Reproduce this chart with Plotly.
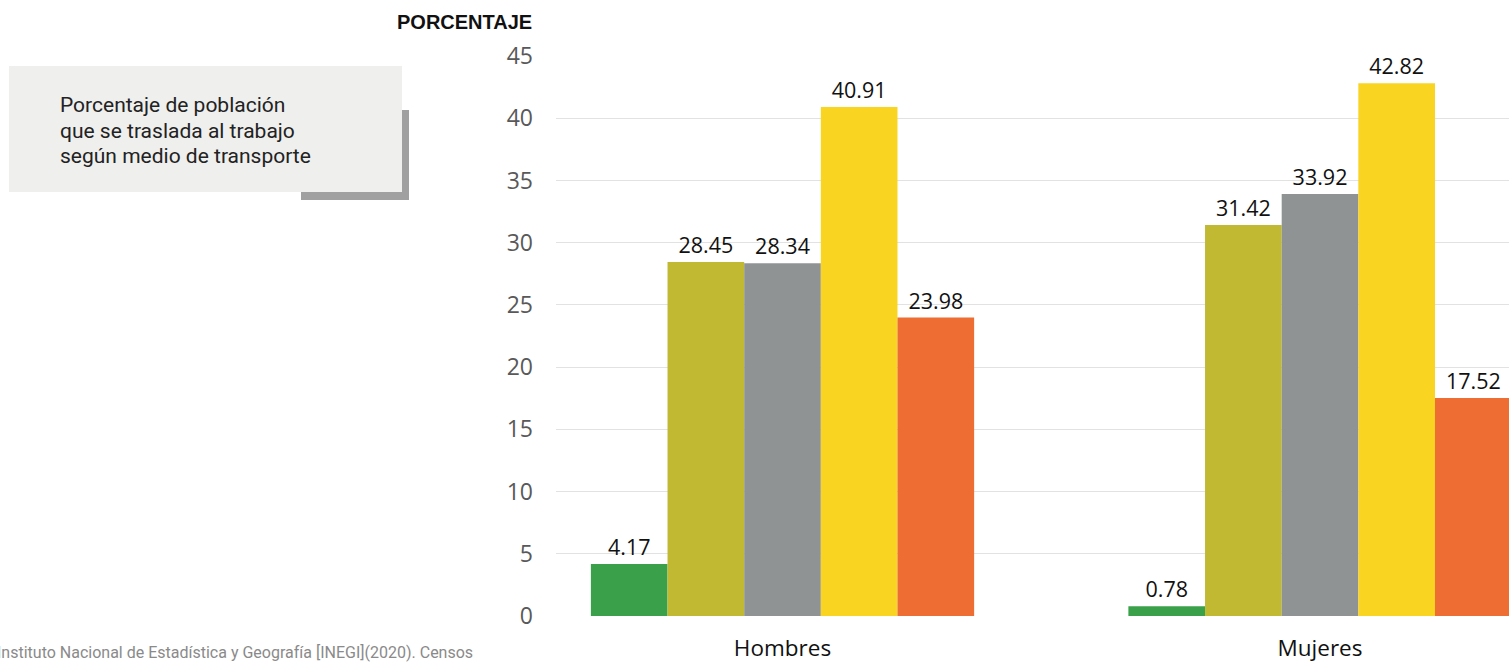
import plotly.graph_objects as go

# ── Data ──
categorias = ["Hombres", "Mujeres"]
medios = ["Medio 1", "Medio 2", "Medio 3", "Medio 4", "Medio 5"]
valores = [
    [4.17, 0.78],
    [28.45, 31.42],
    [28.34, 33.92],
    [40.91, 42.82],
    [23.98, 17.52],
]
colores = ["#3aa04a", "#c0b931", "#909394", "#f9d420", "#ee6d32"]
y_ticks = [0, 5, 10, 15, 20, 25, 30, 35, 40, 45]

# plot area in pixels (figure is 1509 x 662)
PX_L, PX_R, PX_T, PX_B = 556, 1509, 56, 616


def px(x):
    return (x - PX_L) / (PX_R - PX_L)


def py(y):
    return (PX_B - y) / (PX_B - PX_T)


fig = go.Figure()

for nombre, vals, color in zip(medios, valores, colores):
    fig.add_trace(
        go.Bar(
            x=categorias,
            y=vals,
            name=nombre,
            marker=dict(color=color, line=dict(width=0)),
            text=[f"{v:.2f}" for v in vals],
            textposition="outside",
            textfont=dict(family="Open Sans, Arial, sans-serif", size=21.5, color="#111111"),
            cliponaxis=False,
        )
    )

# ── Text box with shadow ──
shapes = [
    dict(type="rect", xref="paper", yref="paper",
         x0=px(301), x1=px(409), y0=py(200), y1=py(110),
         fillcolor="#a0a0a0", line=dict(width=0), layer="below"),
    dict(type="rect", xref="paper", yref="paper",
         x0=px(9), x1=px(402), y0=py(192), y1=py(66),
         fillcolor="#efefed", line=dict(width=0), layer="below"),
]

lineas_caja = ["Porcentaje de población", "que se traslada al trabajo", "según medio de transporte"]
lineas_y = [105, 130.5, 156]

annotations = []
for txt, yy in zip(lineas_caja, lineas_y):
    annotations.append(
        dict(text=txt, xref="paper", yref="paper", x=px(58), y=py(yy),
             xanchor="left", yanchor="middle", align="left", showarrow=False,
             font=dict(family="Roboto, Arial, sans-serif", size=21, color="#222222"))
    )

annotations += [
    dict(text="<b>PORCENTAJE</b>", xref="paper", yref="paper",
         x=px(534), y=py(22), xanchor="right", yanchor="middle",
         showarrow=False,
         font=dict(family="Liberation Sans Narrow, Arial Narrow, Arial, sans-serif",
                   size=20, color="#111111")),
    dict(text="Instituto Nacional de Estadística y Geografía [INEGI](2020). Censos",
         xref="paper", yref="paper", x=px(-5), y=py(652),
         xanchor="left", yanchor="middle", showarrow=False,
         font=dict(family="Roboto, Arial, sans-serif", size=16, color="#8a8a8a")),
]

fig.update_layout(
    width=1509,
    height=662,
    barmode="group",
    bargap=0.287,
    bargroupgap=0,
    showlegend=False,
    paper_bgcolor="#ffffff",
    plot_bgcolor="#ffffff",
    margin=dict(l=PX_L, r=1509 - PX_R, t=PX_T, b=662 - PX_B),
    shapes=shapes,
    annotations=annotations,
)

fig.update_xaxes(
    range=[-0.4214, 1.3516],
    showgrid=False,
    showline=False,
    ticks="",
    tickfont=dict(family="Open Sans, Arial, sans-serif", size=22.5, color="#111111"),
    ticklabelstandoff=16,
)
fig.update_yaxes(
    range=[0, 45],
    tickvals=y_ticks,
    showgrid=True,
    gridcolor="#e2e2e2",
    gridwidth=1,
    zeroline=False,
    showline=False,
    tickfont=dict(family="Open Sans, Arial, sans-serif", size=23, color="#595959"),
    ticklabelstandoff=22,
)

# remove the default page margin so the figure sits at the top-left corner
fig.write_html(
    "out.html",
    config={"displayModeBar": False},
    post_script="document.body.style.margin='0px';",
)
